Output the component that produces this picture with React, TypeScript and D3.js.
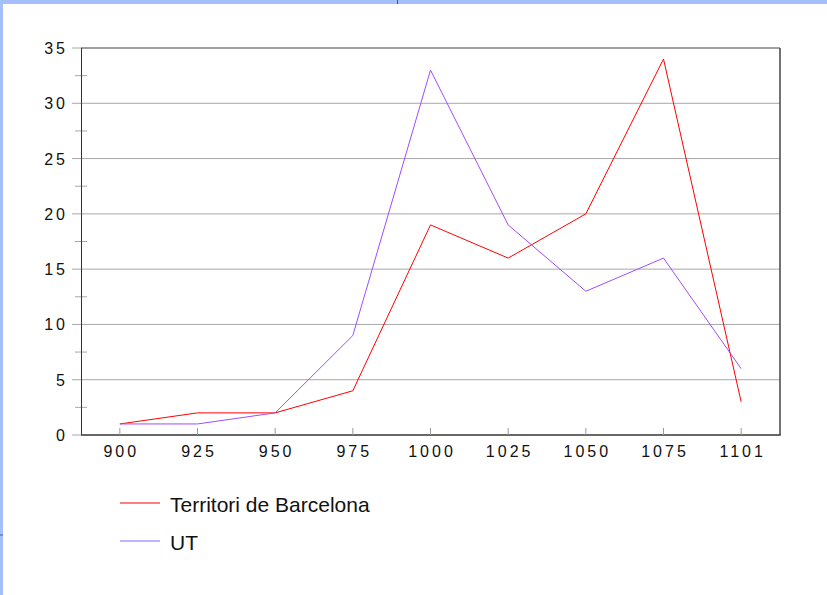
import React, { useEffect, useRef } from 'react';
import * as d3 from 'd3';

const years = ['900', '925', '950', '975', '1000', '1025', '1050', '1075', '1101'];
const barcelona = [1, 2, 2, 4, 19, 16, 20, 34, 3];
const ut = [1, 1, 2, 9, 33, 19, 13, 16, 6];
const yTicks = [0, 5, 10, 15, 20, 25, 30, 35];
const seriesNames = ['Territori de Barcelona', 'UT'];
const seriesColors = ['#ff0000', '#9f4dff'];

function App() {
  const svgRef = useRef<SVGSVGElement>(null);

  useEffect(() => {
    const width = 827;
    const height = 595;
    const margin = { top: 48, right: 47, bottom: 160, left: 81 };
    const ls = 3; // digit spacing of the tick labels
    const svg = d3.select(svgRef.current);
    svg.selectAll('*').remove();
    svg.attr('width', width).attr('height', height);

    svg.append('rect').attr('width', width).attr('height', height).attr('fill', '#fff');
    // frame of the page around the chart
    svg.append('rect').attr('x', 0).attr('y', 0).attr('width', width).attr('height', 4).attr('fill', '#a4bffc');
    svg.append('rect').attr('x', 0).attr('y', 0).attr('width', 3).attr('height', height).attr('fill', '#a4bffc');
    svg.append('rect').attr('x', 397).attr('y', 0).attr('width', 1).attr('height', 4).attr('fill', '#555');
    svg.append('rect').attr('x', 0).attr('y', 534).attr('width', 3).attr('height', 2).attr('fill', '#7a8fc0');

    const x = d3
      .scalePoint()
      .domain(years)
      .range([margin.left, width - margin.right])
      .padding(0.5);

    const y = d3
      .scaleLinear()
      .domain([0, 35])
      .range([height - margin.bottom, margin.top]);

    const g = svg.append('g');

    // grid lines
    g.selectAll('.grid')
      .data(yTicks)
      .enter()
      .append('line')
      .attr('x1', margin.left)
      .attr('x2', width - margin.right)
      .attr('y1', (d) => y(d))
      .attr('y2', (d) => y(d))
      .attr('stroke', (d) => (d === 35 ? '#808080' : '#a8a8a8'))
      .attr('stroke-width', (d) => (d === 35 ? 1.5 : 1));

    // y major ticks
    g.selectAll('.ytick')
      .data(yTicks)
      .enter()
      .append('line')
      .attr('x1', margin.left - 9)
      .attr('x2', margin.left)
      .attr('y1', (d) => y(d))
      .attr('y2', (d) => y(d))
      .attr('stroke', '#a8a8a8');

    // y minor ticks
    g.selectAll('.yminor')
      .data(d3.range(2.5, 35, 5))
      .enter()
      .append('line')
      .attr('x1', margin.left - 6)
      .attr('x2', margin.left + 6)
      .attr('y1', (d) => y(d))
      .attr('y2', (d) => y(d))
      .attr('stroke', '#a8a8a8');

    g.selectAll('.ylabel')
      .data(yTicks)
      .enter()
      .append('text')
      .attr('x', 65 + ls)
      .attr('y', (d) => y(d) + 6)
      .attr('text-anchor', 'end')
      .attr('font-family', 'Liberation Sans, Arial, sans-serif')
      .attr('font-size', 16)
      .attr('letter-spacing', ls)
      .attr('fill', '#111')
      .text((d) => String(d));

    // axes lines
    g.append('line')
      .attr('x1', margin.left + 0.5)
      .attr('x2', margin.left + 0.5)
      .attr('y1', margin.top)
      .attr('y2', height - margin.bottom)
      .attr('stroke', '#333');
    g.append('line')
      .attr('x1', width - margin.right)
      .attr('x2', width - margin.right)
      .attr('y1', margin.top)
      .attr('y2', height - margin.bottom)
      .attr('stroke', '#444')
      .attr('stroke-width', 1.5);
    g.append('line')
      .attr('x1', margin.left)
      .attr('x2', width - margin.right + 0.75)
      .attr('y1', height - margin.bottom)
      .attr('y2', height - margin.bottom)
      .attr('stroke', '#444')
      .attr('stroke-width', 1.5);

    // x ticks
    g.selectAll('.xtick')
      .data(years)
      .enter()
      .append('line')
      .attr('x1', (d) => x(d)!)
      .attr('x2', (d) => x(d)!)
      .attr('y1', height - margin.bottom - 7)
      .attr('y2', height - margin.bottom)
      .attr('stroke', '#999');

    g.selectAll('.xlabel')
      .data(years)
      .enter()
      .append('text')
      .attr('x', (d) => x(d)! + ls / 2)
      .attr('y', height - margin.bottom + 22)
      .attr('text-anchor', 'middle')
      .attr('font-family', 'Liberation Sans, Arial, sans-serif')
      .attr('font-size', 16)
      .attr('letter-spacing', ls)
      .attr('fill', '#111')
      .text((d) => d);

    const line = d3
      .line<number>()
      .x((_, i) => x(years[i])!)
      .y((d) => y(d));

    [barcelona, ut].forEach((s, i) => {
      g.append('path')
        .datum(s)
        .attr('d', line)
        .attr('fill', 'none')
        .attr('stroke', seriesColors[i])
        .attr('stroke-width', 1);
    });

    // legend
    seriesNames.forEach((name, i) => {
      const ly = 503 + i * 38;
      g.append('line')
        .attr('x1', 120)
        .attr('x2', 160)
        .attr('y1', ly)
        .attr('y2', ly)
        .attr('stroke', i === 0 ? seriesColors[0] : '#7f6bff');
      g.append('text')
        .attr('x', 170)
        .attr('y', ly + 8.5)
        .attr('font-family', 'Liberation Sans, Arial, sans-serif')
        .attr('font-size', 21)
        .attr('fill', '#111')
        .text(name);
    });
  }, []);

  return <svg ref={svgRef} style={{ position: 'absolute', left: 0, top: 0 }}></svg>;
}

export default App;
